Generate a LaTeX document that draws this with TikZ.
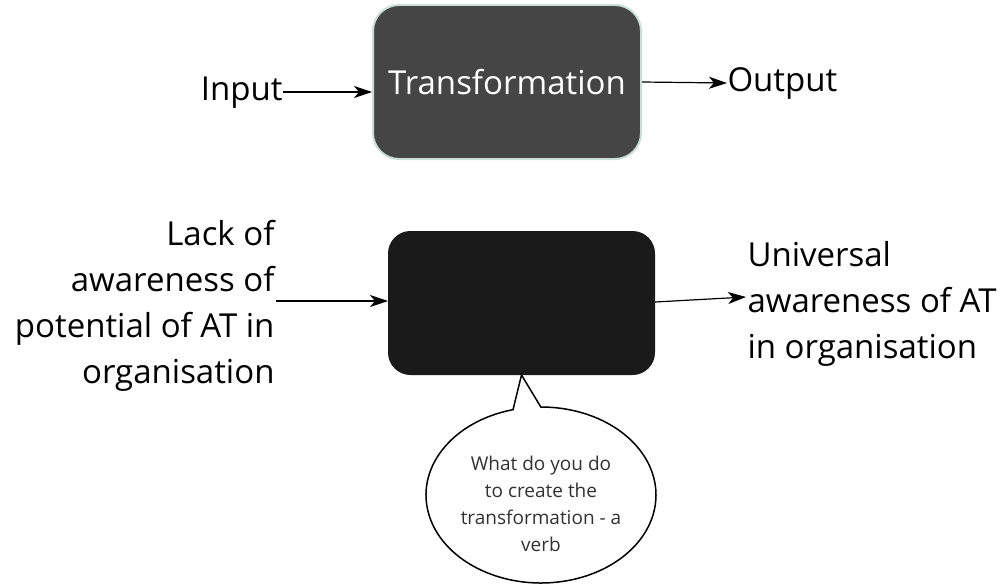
\documentclass[tikz,border=0pt]{standalone}
\usepackage{fontspec}
\setmainfont{Open Sans}
\usetikzlibrary{arrows.meta,shapes.callouts}

\definecolor{boxgrey}{RGB}{69,69,69}
\definecolor{boxblack}{RGB}{26,26,26}
\definecolor{boxedge}{RGB}{200,222,214}
\definecolor{notegrey}{RGB}{50,50,50}

\tikzset{every picture/.style={line width=1pt}}
\tikzset{
	flowarrow/.style={-{Stealth[length=18pt,width=12pt,inset=5pt]}, line width=1.2pt},
	bigtext/.style={font=\fontsize{33}{46}\selectfont, inner sep=0pt},
}

\begin{document}
\begin{tikzpicture}[x=1pt,y=1pt,yscale=-1]
	\useasboundingbox (0,0) rectangle (1006,586);

	%Top row: input -> transformation -> output
	\node [draw=boxedge, line width=2pt, fill=boxgrey, rounded corners=26pt, minimum width=268pt, minimum height=154pt, text=white, font=\fontsize{33}{40}\selectfont] (trans) at (507,82) {Transformation};
	\node [bigtext, anchor=east] (input) at (283,93) {Input};
	\node [bigtext, anchor=west] (output) at (727,83) {Output};
	\draw [flowarrow] (input.east) ++(0,-1) -- (372,92);
	\draw [flowarrow] (trans.east) -- (output.west);

	%Bottom row: current state -> (blank box) -> desired state
	\node [fill=boxblack, draw=boxblack, rounded corners=22pt, minimum width=266pt, minimum height=143pt] (blank) at (521.5,303) {};
	\node [bigtext, anchor=east, align=right] (lack) at (275,306) {Lack of\\awareness of\\potential of AT in\\organisation};
	\node [bigtext, anchor=west, align=left] (univ) at (747,304) {Universal\\awareness of AT\\in organisation};
	\coordinate (lackend) at (276,301);
	\coordinate (univend) at (746,297);
	\draw [flowarrow] (lackend) -- (lackend -| blank.west);
	\draw [flowarrow] (blank.east |- 0,302) -- (univend);

	%Speech bubble
	\node [ellipse callout, draw, fill=white, line width=1.5pt, minimum width=230pt, minimum height=176pt, callout absolute pointer={(blank.south)}, callout pointer arc=14] (verb) at (541,495) {};
	\node [align=center, text=notegrey, font=\fontsize{19}{27}\selectfont] (verbtext) at (541,504) {What do you do\\to create the\\transformation - a\\verb};

\end{tikzpicture}
\end{document}
